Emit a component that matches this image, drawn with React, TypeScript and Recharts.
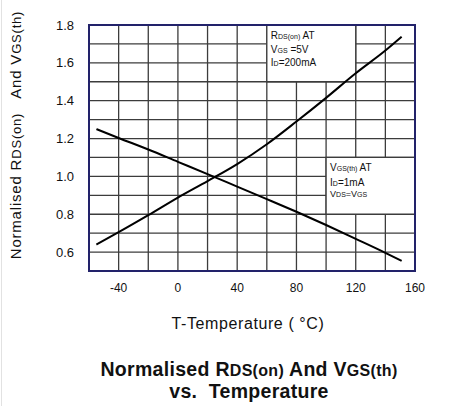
import { LineChart, Line, XAxis, YAxis, CartesianGrid, ReferenceArea } from 'recharts'

// temperature (°C) and normalised values
const temps = [-55, -40, -20, 0, 20, 40, 60, 80, 100, 120, 140, 151]
const rdsOn = [0.64, 0.705, 0.795, 0.888, 0.975, 1.065, 1.17, 1.29, 1.415, 1.545, 1.665, 1.738]
const vgsTh = [1.25, 1.203, 1.142, 1.077, 1.012, 0.946, 0.88, 0.813, 0.743, 0.67, 0.596, 0.553]

const xGridTicks = [-60, -40, -20, 0, 20, 40, 60, 80, 100, 120, 140, 160]
const xTickLabels = [-40, 0, 40, 80, 120, 160]
const yGridTicks = [0.5, 0.6, 0.7, 0.8, 0.9, 1.0, 1.1, 1.2, 1.3, 1.4, 1.5, 1.6, 1.7, 1.8]
const yTickLabels = [0.6, 0.8, 1.0, 1.2, 1.4, 1.6, 1.8]

const data = temps.map((t, i) => ({ t, rds: rdsOn[i], vgs: vgsTh[i] }))

const font = '"Liberation Sans", Arial, sans-serif'
const gridColor = '#3c3c3c'
const frameColor = '#22226a'

const RdsNote = (props: any) => {
  const { x, y } = props.viewBox
  return (
    <text x={x + 4} y={y} fontFamily={font} fill="#111" fontSize={10}>
      <tspan x={x + 4} dy={14}>R<tspan fontSize={7}>DS(on)</tspan> AT</tspan>
      <tspan x={x + 4} dy={14}>V<tspan fontSize={7}>GS</tspan> =5V</tspan>
      <tspan x={x + 4} dy={13}>I<tspan fontSize={7}>D</tspan>=200mA</tspan>
    </text>
  )
}

const VgsNote = (props: any) => {
  const { x, y } = props.viewBox
  return (
    <text x={x + 4} y={y} fontFamily={font} fill="#111" fontSize={10}>
      <tspan x={x + 4} dy={14}>V<tspan fontSize={7}>GS(th)</tspan> AT</tspan>
      <tspan x={x + 4} dy={14.5}>I<tspan fontSize={7}>D</tspan>=1mA</tspan>
      <tspan x={x + 4} dy={11} fontSize={9}>V<tspan fontSize={7}>DS</tspan>=V<tspan fontSize={7}>GS</tspan></tspan>
    </text>
  )
}

export default function App() {
  return (
    <div style={{ position: 'absolute', left: 0, top: 0, width: 451, height: 406, background: '#fff', fontFamily: font }}>
      <div style={{ position: 'absolute', left: 1, top: 0, width: 1, height: 406, background: '#e2e2e2' }} />
      <LineChart width={451} height={406} data={data} margin={{ top: 25, right: 36, bottom: 105, left: 29 }}>
        <CartesianGrid stroke={gridColor} strokeWidth={1.3} />
        <XAxis
          dataKey="t"
          type="number"
          domain={[-60, 160]}
          ticks={xGridTicks}
          tickFormatter={(v: number) => (xTickLabels.includes(v) ? String(v) : '')}
          tickSize={0}
          tickMargin={12}
          height={30}
          axisLine={false}
          tick={{ fill: '#111', fontSize: 12, fontFamily: font }}
        />
        <YAxis
          type="number"
          domain={[0.5, 1.8]}
          ticks={yGridTicks}
          tickFormatter={(v: number) => (yTickLabels.some(l => Math.abs(l - v) < 1e-6) ? v.toFixed(1) : '')}
          tickSize={0}
          tickMargin={15}
          width={60}
          axisLine={false}
          tick={{ fill: '#111', fontSize: 13, fontFamily: font }}
        />
        <ReferenceArea x1={60} x2={120} y1={1.5} y2={1.8} fill="#fff" fillOpacity={1} stroke={gridColor} strokeWidth={1.3} label={<RdsNote />} />
        <ReferenceArea x1={100} x2={160} y1={0.8} y2={1.1} fill="#fff" fillOpacity={1} stroke={gridColor} strokeWidth={1.3} label={<VgsNote />} />
        <ReferenceArea x1={-60} x2={160} y1={0.5} y2={1.8} fill="none" stroke={frameColor} strokeWidth={2} />
        <Line type="monotone" dataKey="rds" stroke="#000" strokeWidth={2} dot={false} isAnimationActive={false} />
        <Line type="monotone" dataKey="vgs" stroke="#000" strokeWidth={2} dot={false} isAnimationActive={false} />
      </LineChart>
      <div
        style={{
          position: 'absolute', left: 15, top: 135, transform: 'translate(-50%, -50%) rotate(-90deg)',
          whiteSpace: 'nowrap', fontSize: 15, letterSpacing: 0.8, color: '#111'
        }}
      >
        Normalised R<span style={{ fontSize: 13 }}>DS(on)</span>&nbsp;&nbsp; And V<span style={{ fontSize: 13 }}>GS(th)</span>
      </div>
      <div style={{ position: 'absolute', left: 0, width: 496, top: 315, textAlign: 'center', fontSize: 16, letterSpacing: 0.6, color: '#111' }}>
        T-Temperature ( °C)
      </div>
      <div
        style={{
          position: 'absolute', left: 0, width: 498, top: 359, textAlign: 'center', fontSize: 19.5,
          letterSpacing: 0.3, fontWeight: 'bold', color: '#111', lineHeight: '20px'
        }}
      >
        Normalised R<span style={{ fontSize: 16 }}>DS(on)</span> And V<span style={{ fontSize: 16 }}>GS(th)</span>
        <br />
        vs.&nbsp; Temperature
      </div>
    </div>
  )
}
